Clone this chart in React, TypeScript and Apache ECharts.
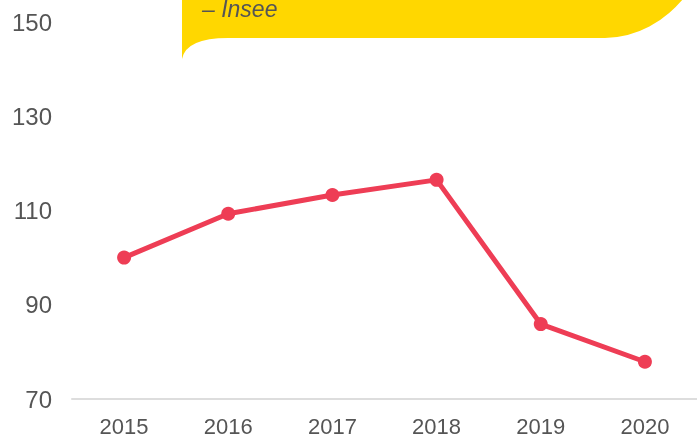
import React, { useEffect, useRef } from "react";
import * as echarts from "echarts";

const years = ["2015", "2016", "2017", "2018", "2019", "2020"];
const values = [100, 109.3, 113.3, 116.5, 85.9, 77.9];
const yTicks = { min: 70, max: 150, interval: 20 };
const noteText = "– Insee";

const bubblePath =
  "M182,-200 L721,-200 L721,-112 A116,150 0 0 1 605,38 L228,38 Q186,38 182,59 Z";

echarts.graphic.registerShape("bubble", echarts.graphic.extendPath(bubblePath, {}) as any);

export default function App() {
  const ref = useRef<HTMLDivElement>(null);
  useEffect(() => {
    if (!ref.current) return;
    const chart = echarts.init(ref.current, undefined, { renderer: "svg" });
    chart.setOption({
      animation: false,
      grid: { left: 72, right: -6, top: 22, bottom: 38 },
      xAxis: {
        type: "category",
        data: years,
        boundaryGap: true,
        axisLine: { show: true, lineStyle: { color: "#dddddd", width: 2 } },
        axisTick: { show: false },
        axisLabel: {
          color: "#555555",
          fontSize: 22,
          fontFamily: "Liberation Sans, Arial, sans-serif",
          margin: 16,
        },
        splitLine: { show: false },
      },
      yAxis: {
        type: "value",
        min: yTicks.min,
        max: yTicks.max,
        interval: yTicks.interval,
        axisLine: { show: false },
        axisTick: { show: false },
        splitLine: { show: false },
        axisLabel: {
          color: "#555555",
          fontSize: 24,
          fontFamily: "Liberation Sans, Arial, sans-serif",
          margin: 20,
        },
      },
      series: [
        {
          type: "line",
          data: values,
          symbol: "circle",
          symbolSize: 14,
          lineStyle: { color: "#EE3D55", width: 5 },
          itemStyle: { color: "#EE3D55" },
          z: 3,
        },
      ],
      graphic: [
        {
          type: "bubble",
          x: 0,
          y: 0,
          z: 10,
          style: { fill: "#FFD700" },
        },
        {
          type: "text",
          x: 202,
          y: 20,
          z: 11,
          style: {
            text: noteText,
            fill: "#555555",
            font: "italic 23px 'Liberation Sans', Arial, sans-serif",
            textVerticalAlign: "bottom",
          },
        },
      ],
    });
    return () => chart.dispose();
  }, []);
  return (
    <div
      ref={ref}
      style={{ position: "fixed", left: 0, top: 0, width: 697, height: 437 }}
    />
  );
}
